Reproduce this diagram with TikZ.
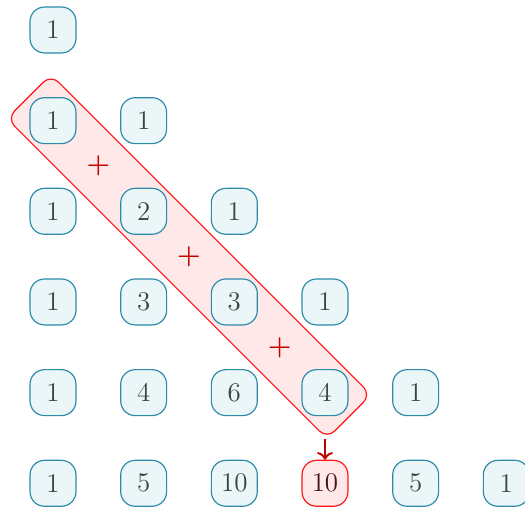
\documentclass[tikz,border=0pt]{standalone}
\usepackage{tikz}
\usetikzlibrary{arrows.meta,calc}
\definecolor{CellFill}{RGB}{234,246,247}
\definecolor{CellLine}{RGB}{46,138,170}
\definecolor{CellText}{RGB}{62,66,68}
\definecolor{SumFill}{RGB}{255,232,232}
\definecolor{SumLine}{RGB}{255,20,20}
\definecolor{DarkRed}{RGB}{195,0,0}
\tikzset{
  cell/.style={draw=CellLine,fill=CellFill,text=CellText,rounded corners=0.24cm,minimum size=0.76cm,inner sep=0pt,line width=0.55pt,font=\fontsize{12.7}{15}\selectfont},
  sumcell/.style={cell,draw=SumLine,fill=SumFill,text={rgb,255:red,70;green,20;blue,20}},
  band/.style={draw=SumLine,fill=SumFill,rounded corners=0.18cm,line width=0.55pt,minimum width=7.49cm,minimum height=1.03cm,inner sep=0pt},
  plus/.style={text=DarkRed,font=\fontsize{12.7}{15}\selectfont\bfseries,inner sep=0pt},
  sumarrow/.style={->,draw=DarkRed,line width=0.9pt,shorten <=0.37cm}
}
\begin{document}
\begin{tikzpicture}
\useasboundingbox (-0.877,0.496) rectangle (7.809,-7.909);

% diagonal band behind the cells
\node[band,rotate=-45] (diag) at (2.25,-3.75) {};

\node[cell] (r00) at (0,0) {1};

\node[cell] (r10) at (0,-1.5) {1};
\node[cell] (r11) at (1.5,-1.5) {1};

\node[cell] (r20) at (0,-3) {1};
\node[cell] (r21) at (1.5,-3) {2};
\node[cell] (r22) at (3,-3) {1};

\node[cell] (r30) at (0,-4.5) {1};
\node[cell] (r31) at (1.5,-4.5) {3};
\node[cell] (r32) at (3,-4.5) {3};
\node[cell] (r33) at (4.5,-4.5) {1};

\node[cell] (r40) at (0,-6) {1};
\node[cell] (r41) at (1.5,-6) {4};
\node[cell] (r42) at (3,-6) {6};
\node[cell] (r43) at (4.5,-6) {4};
\node[cell] (r44) at (6,-6) {1};

\node[cell] (r50) at (0,-7.5) {1};
\node[cell] (r51) at (1.5,-7.5) {5};
\node[cell] (r52) at (3,-7.5) {10};
\node[sumcell] (r53) at (4.5,-7.5) {10};
\node[cell] (r54) at (6,-7.5) {5};
\node[cell] (r55) at (7.5,-7.5) {1};

\node[plus] (p1) at ($(r10)!0.5!(r21)$) {+};
\node[plus] (p2) at ($(r21)!0.5!(r32)$) {+};
\node[plus] (p3) at ($(r32)!0.5!(r43)$) {+};

\draw[sumarrow] (r43.south) -- (r53.north);
\end{tikzpicture}
\end{document}
